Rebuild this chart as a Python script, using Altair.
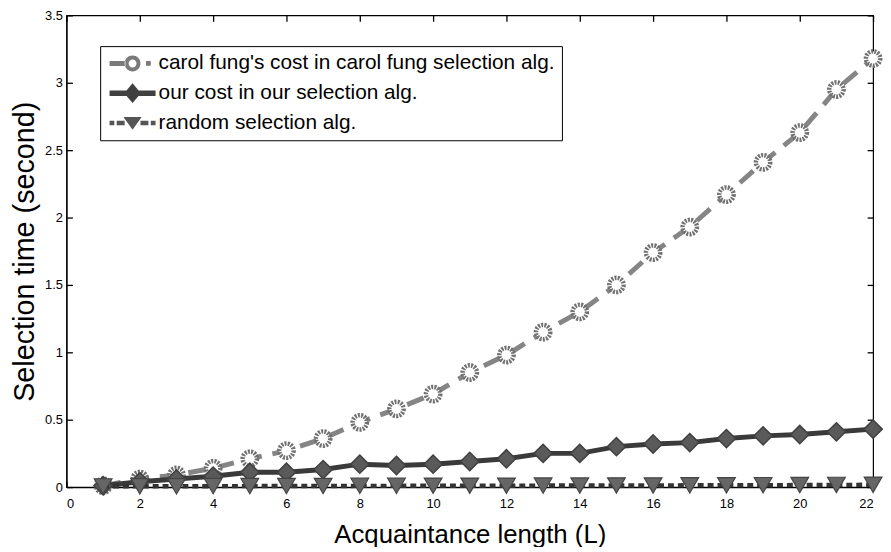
import altair as alt
import pandas as pd

# ---- data ----
L = list(range(1, 23))
carol = [0.01, 0.06, 0.09, 0.14, 0.21, 0.27, 0.36, 0.48, 0.58, 0.69, 0.85,
         0.98, 1.15, 1.30, 1.50, 1.74, 1.93, 2.17, 2.41, 2.63, 2.95, 3.18]
ours = [0.01, 0.04, 0.06, 0.08, 0.11, 0.11, 0.13, 0.17, 0.16, 0.17, 0.19,
        0.21, 0.25, 0.25, 0.30, 0.32, 0.33, 0.36, 0.38, 0.39, 0.41, 0.43]
rand = [0.005, 0.006, 0.006, 0.007, 0.007, 0.008, 0.008, 0.009, 0.009, 0.010, 0.010,
        0.010, 0.011, 0.011, 0.012, 0.012, 0.013, 0.013, 0.014, 0.015, 0.016, 0.017]
series_names = ["carol fung's cost in carol fung selection alg.",
                "our cost in our selection alg.",
                "random selection alg."]
x_ticks = list(range(0, 23, 2))
y_ticks = [0, 0.5, 1, 1.5, 2, 2.5, 3, 3.5]

W, H = 814, 476
FONT = "Liberation Sans"

df_c = pd.DataFrame({"L": L, "v": carol})
df_o = pd.DataFrame({"L": L, "v": ours})
df_r = pd.DataFrame({"L": L, "v": rand})
df_leg = pd.DataFrame({"s": series_names})

xs = alt.Scale(domain=[0, 22], nice=False, zero=False)
ys = alt.Scale(domain=[0, 3.5], nice=False)

INWARD = alt.ExprRef(expr="-6")

main_x = alt.Axis(values=x_ticks, format="~g", ticks=True, tickSize=INWARD, tickColor="black",
                  tickWidth=1.3, labelPadding=17, labelFontSize=13,
                  labelFont=FONT, labelColor="black", title="Acquaintance length (L)",
                  titleFont=FONT, titleFontSize=26, titleFontWeight="normal",
                  titlePadding=11, titleColor="black", grid=False, domainColor="black",
                  domainWidth=1.2)
main_y = alt.Axis(values=y_ticks, format="~g", ticks=True, tickSize=INWARD, tickColor="black",
                  tickWidth=1.3, labelPadding=10, labelFontSize=13,
                  labelFont=FONT, labelColor="black", title="Selection time (second)",
                  titleFont=FONT, titleFontSize=29, titleFontWeight="normal",
                  titlePadding=5, titleColor="black", grid=False, domainColor="black",
                  domainWidth=1.2)
# inward ticks on the top and right frame edges
TK = dict(labels=False, title=None, domain=False, ticks=True, tickSize=INWARD, tickColor="black",
          tickWidth=1.3, grid=False)
top_x = alt.Axis(orient="top", values=x_ticks, **TK)
right_y = alt.Axis(orient="right", values=y_ticks, **TK)


def X(axis=None):
    return alt.X("L:Q", scale=xs, axis=axis)


def Y(axis=None):
    return alt.Y("v:Q", scale=ys, axis=axis)


carol_line = alt.Chart(df_c).mark_line(color="#858585", strokeWidth=5, strokeDash=[18, 11]).encode(
    x=X(main_x), y=Y(main_y))
carol_pts = alt.Chart(df_c).mark_point(shape="circle", filled=False, fill="white", fillOpacity=1,
                                       stroke="#707070", strokeWidth=4.5, strokeDash=[2, 1.2],
                                       size=210, opacity=1).encode(x=X(), y=Y())
our_line = alt.Chart(df_o).mark_line(color="#3a3a3a", strokeWidth=5).encode(
    x=X(top_x), y=Y(right_y))
our_pts = alt.Chart(df_o).mark_point(shape="diamond", filled=True, fill="#5a5a5a", stroke="#404040",
                                     strokeWidth=1.5, size=340, opacity=1).encode(x=X(), y=Y())
rand_line = alt.Chart(df_r).mark_line(color="#333333", strokeWidth=4.5, strokeDash=[6, 4]).encode(
    x=X(), y=Y())
rand_pts = alt.Chart(df_r).mark_point(shape="triangle-down", filled=True, fill="#666666",
                                      stroke="#444444", strokeWidth=1.2, size=320,
                                      opacity=1).encode(x=X(), y=Y())

# legend glyphs: line segment + marker (marker centred at x=1.9), symbol unit coordinates
ring = ("M-1.0,-0.32 H1.0 V0.32 H-1.0 Z "
        "M2.9,0 A1,1 0 1,0 0.9,0 A1,1 0 1,0 2.9,0 Z "
        "M2.4,0 A0.5,0.5 0 1,1 1.4,0 A0.5,0.5 0 1,1 2.4,0 Z "
        "M3.6,-0.3 H4.2 V0.3 H3.6 Z")
diam = ("M-1.0,-0.34 H4.8 V0.34 H-1.0 Z "
        "M1.9,-1.25 L2.95,0 L1.9,1.25 L0.85,0 Z")
tri = ("M-1.0,-0.28 H-0.4 V0.28 H-1.0 Z M-0.1,-0.28 H0.9 V0.28 H-0.1 Z "
       "M0.75,-0.75 L3.05,-0.75 L1.9,0.85 Z "
       "M2.9,-0.28 H3.9 V0.28 H2.9 Z M4.2,-0.28 H4.8 V0.28 H4.2 Z")

leg = alt.Legend(title=None, orient="none", legendX=34, legendY=31,
                 symbolSize=256, symbolOpacity=1, labelFontSize=21, labelFont=FONT,
                 labelColor="black", labelLimit=700, labelOffset=31,
                 strokeColor="black", fillColor="white", padding=7,
                 rowPadding=8, symbolStrokeWidth=0)

legend_layer = alt.Chart(df_leg).mark_point(filled=True, opacity=0, size=256).encode(
    shape=alt.Shape("s:N", scale=alt.Scale(domain=series_names, range=[ring, diam, tri]),
                    legend=leg),
    color=alt.Color("s:N", scale=alt.Scale(domain=series_names,
                                           range=["#7a7a7a", "#404040", "#555555"]),
                    legend=leg),
)

chart = alt.layer(carol_line, carol_pts, our_line, our_pts, rand_line, rand_pts, legend_layer).resolve_axis(
    x="independent", y="independent"
).properties(
    width=W, height=H,
    padding={"left": 59, "top": 5, "right": 10, "bottom": 58},
    autosize=alt.AutoSizeParams(type="none"),
    background="white",
).configure_view(stroke="black", strokeWidth=1.2)

chart.save("out.html", embed_options={"renderer": "svg", "actions": False})
